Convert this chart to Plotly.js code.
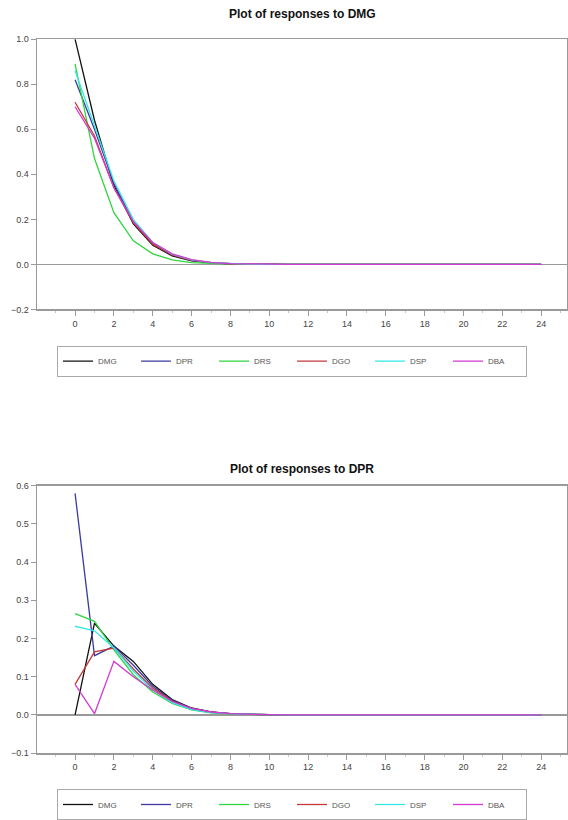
<!DOCTYPE html>
<html>
<head>
<meta charset="utf-8">
<script src="https://cdn.plot.ly/plotly-3.0.1.min.js"></script>
<style>html,body{margin:0;padding:0;background:#fff;}#chart{width:568px;height:820px;}</style>
</head>
<body>
<div id="chart"></div>
<script>
// Horizons 0..24
const steps = [0,1,2,3,4,5,6,7,8,9,10,11,12,13,14,15,16,17,18,19,20,21,22,23,24];
const seriesNames = ["DMG","DPR","DRS","DGO","DSP","DBA"];
const seriesColors = ["#111111","#3a3aa0","#2fd640","#c23a3a","#35e8e8","#d23ad2"];
const xTicks = [0,2,4,6,8,10,12,14,16,18,20,22,24];

// Responses to a DMG shock
const dmg_DMG = [1.0,0.64,0.35,0.18,0.085,0.038,0.016,0.0065,0.0025,0.001,0.0004,0.00015,0.00005,0,0,0,0,0,0,0,0,0,0,0,0];
const dmg_DPR = [0.82,0.6,0.36,0.19,0.092,0.042,0.018,0.0075,0.003,0.0012,0.0005,0.0002,0.0001,0,0,0,0,0,0,0,0,0,0,0,0];
const dmg_DRS = [0.89,0.47,0.23,0.105,0.047,0.02,0.008,0.003,0.0012,0.0005,0.0002,0.0001,0,0,0,0,0,0,0,0,0,0,0,0,0];
const dmg_DGO = [0.72,0.57,0.34,0.185,0.09,0.042,0.018,0.0075,0.003,0.0012,0.0005,0.0002,0.0001,0,0,0,0,0,0,0,0,0,0,0,0];
const dmg_DSP = [0.86,0.61,0.37,0.2,0.098,0.045,0.02,0.008,0.0032,0.0013,0.0005,0.0002,0.0001,0,0,0,0,0,0,0,0,0,0,0,0];
const dmg_DBA = [0.7,0.56,0.34,0.19,0.097,0.047,0.021,0.009,0.0036,0.0014,0.0006,0.0002,0.0001,0,0,0,0,0,0,0,0,0,0,0,0];

// Responses to a DPR shock
const dpr_DMG = [0.0,0.24,0.18,0.14,0.08,0.04,0.018,0.008,0.003,0.0012,0.0005,0.0002,0.0001,0,0,0,0,0,0,0,0,0,0,0,0];
const dpr_DPR = [0.58,0.155,0.18,0.13,0.075,0.038,0.017,0.007,0.003,0.0012,0.0005,0.0002,0.0001,0,0,0,0,0,0,0,0,0,0,0,0];
const dpr_DRS = [0.265,0.245,0.17,0.105,0.06,0.03,0.013,0.005,0.002,0.0008,0.0003,0.0001,0,0,0,0,0,0,0,0,0,0,0,0,0];
const dpr_DGO = [0.08,0.165,0.175,0.12,0.07,0.036,0.016,0.007,0.0028,0.0011,0.0004,0.0002,0.0001,0,0,0,0,0,0,0,0,0,0,0,0];
const dpr_DSP = [0.232,0.22,0.175,0.115,0.065,0.032,0.014,0.006,0.0024,0.001,0.0004,0.0002,0.0001,0,0,0,0,0,0,0,0,0,0,0,0];
const dpr_DBA = [0.08,0.003,0.14,0.1,0.065,0.035,0.017,0.0075,0.003,0.0012,0.0005,0.0002,0.0001,0,0,0,0,0,0,0,0,0,0,0,0];

const topSeries = [dmg_DMG,dmg_DPR,dmg_DRS,dmg_DGO,dmg_DSP,dmg_DBA];
const botSeries = [dpr_DMG,dpr_DPR,dpr_DRS,dpr_DGO,dpr_DSP,dpr_DBA];

const traces = [];
topSeries.forEach((ys,i)=>traces.push({
  x: steps, y: ys, type:'scatter', mode:'lines', name: seriesNames[i],
  line:{color: seriesColors[i], width:1.3}, xaxis:'x', yaxis:'y', legend:'legend'
}));
botSeries.forEach((ys,i)=>traces.push({
  x: steps, y: ys, type:'scatter', mode:'lines', name: seriesNames[i],
  line:{color: seriesColors[i], width:1.3}, xaxis:'x2', yaxis:'y2', legend:'legend2'
}));

const W=568, H=820;
const fnt = "Liberation Sans Narrow, Liberation Sans, Arial, sans-serif";
const xdom = [37/W, 567/W];
function xax(anchor){
  return {domain:xdom, anchor:anchor, range:[-1.96,25.33], tickvals:xTicks, ticktext:xTicks.map(String),
    showline:true, mirror:true, linecolor:'#9a9a9a', linewidth:1.5, ticks:'outside', ticklen:5, tickcolor:'#9a9a9a',
    minor:{dtick:1, ticks:'outside', ticklen:2, tickcolor:'#c8c8c8'},
    showgrid:false, zeroline:false, tickfont:{family:fnt,size:9,color:'#444'}, fixedrange:true};
}
function yax(anchor, dom, rng, dt){
  return {domain:dom, anchor:anchor, range:rng, dtick:dt, tickformat:'.1f',
    showline:true, mirror:true, linecolor:'#9a9a9a', linewidth:1.5, ticks:'outside', ticklen:5, tickcolor:'#9a9a9a',
    showgrid:false, zeroline:true, zerolinecolor:'#999999', zerolinewidth:1.5,
    tickfont:{family:fnt,size:9,color:'#444'}, fixedrange:true};
}
const legBase = {orientation:'h', xanchor:'left', yanchor:'top', x:57/W,
  bordercolor:'#aaaaaa', borderwidth:1, bgcolor:'#ffffff',
  font:{family:fnt,size:8,color:'#555'}, entrywidth:33, entrywidthmode:'pixels', itemwidth:30, tracegroupgap:0};

const layout = {
  width:W, height:H, margin:{l:0,r:0,t:0,b:0}, paper_bgcolor:'#fff', plot_bgcolor:'#fff',
  showlegend:true,
  xaxis: xax('y'),
  yaxis: yax('x', [1-316/H, 1-40/H], [-0.2,1.0], 0.2),
  xaxis2: xax('y2'),
  yaxis2: yax('x2', [1-769/H, 1-496/H], [-0.1,0.6], 0.1),
  legend: Object.assign({}, legBase, {y:1-353/H}),
  legend2: Object.assign({}, legBase, {y:1-806/H}),
  annotations:[
    {text:'<b>Plot of responses to DMG</b>', xref:'paper', yref:'paper', x:302/W, y:1-14/H, xanchor:'center', yanchor:'middle', showarrow:false, font:{family:fnt,size:12,color:'#111'}},
    {text:'<b>Plot of responses to DPR</b>', xref:'paper', yref:'paper', x:302/W, y:1-479/H, xanchor:'center', yanchor:'middle', showarrow:false, font:{family:fnt,size:12,color:'#111'}}
  ]
};
Plotly.newPlot('chart', traces, layout, {displayModeBar:false, staticPlot:true});
</script>
</body>
</html>
